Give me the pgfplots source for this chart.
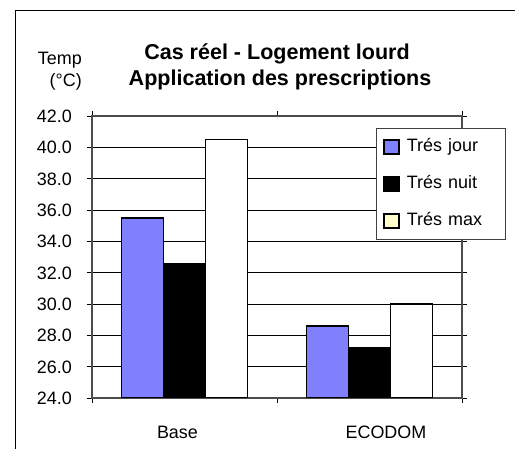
\documentclass[border=0pt]{standalone}
\usepackage{fontspec}
\setmainfont{Liberation Sans}
\usepackage{pgfplots}
\pgfplotsset{compat=1.18}
\definecolor{bjour}{RGB}{128,128,255}
\definecolor{lmax}{RGB}{255,255,204}
\begin{document}
\begin{tikzpicture}[x=1bp,y=1bp]
\useasboundingbox (0,0) rectangle (515,449);
\draw[line width=1bp] (15,-5) -- (15,438) -- (520,438);
\node[anchor=base, font=\bfseries\fontsize{21.6}{26}\selectfont] at (277,389) {Cas réel - Logement lourd};
\node[anchor=base, font=\bfseries\fontsize{21.6}{26}\selectfont] at (280,363) {Application des prescriptions};
\node[anchor=base east, inner sep=0pt, font=\fontsize{18}{21.6}\selectfont] at (82,384) {Temp};
\node[anchor=base east, inner sep=0pt, font=\fontsize{18}{21.6}\selectfont] at (82,362) {(°C)};
\begin{axis}[
  at={(92bp,51bp)}, anchor=south west,
  scale only axis, width=370bp, height=282bp,
  xmin=-0.5, xmax=1.5, ymin=24, ymax=42,
  ybar, bar width=42bp,
  xtick={-0.5,0.5,1.5}, xticklabels={},
  extra x ticks={-0.038,1.089}, extra x tick labels={Base,ECODOM},
  extra x tick style={tick style={draw=none}, grid=none},
  ytick={24,26,...,42},
  ymajorgrids, major grid style={black, line width=0.8bp},
  tick align=outside, major tick length=5bp,
  tick style={black, line width=0.8bp},
  axis line style={black!70, line width=1.2bp},
  /pgf/number format/.cd, fixed, fixed zerofill, precision=1, assume math mode=true, /pgfplots/.cd,
  tick label style={font=\fontsize{18}{21.6}\selectfont, inner sep=0pt},
  yticklabel style={anchor=base east, xshift=-15bp, yshift=-6.4bp},
  xticklabel style={anchor=base, yshift=-35bp},
  legend style={at={(0.7676,0.957)}, anchor=north west, draw=black!75, line width=1bp,
    inner xsep=6bp, inner ysep=10bp, row sep=20bp, column sep=7bp,
    nodes={inner sep=0pt, text height=13bp, text depth=4bp, text width=93bp, align=left, font=\fontsize{18}{21.6}\selectfont}},
  legend cell align=left,
]
\addplot[fill=bjour, draw=black, line width=1.5bp, bar shift=-42bp,
  legend image code/.code={\draw[line width=2.4bp, draw=black, fill=bjour] (0,-7bp) rectangle (15bp,7bp);}]
  coordinates {(0,35.5) (1,28.6)};
\addplot[fill=black, draw=black, line width=1.5bp, bar shift=0bp,
  legend image code/.code={\draw[line width=2.4bp, draw=black, fill=black] (0,-7bp) rectangle (15bp,7bp);}]
  coordinates {(0,32.6) (1,27.2)};
\addplot[fill=white, draw=black, line width=1.5bp, bar shift=42bp,
  legend image code/.code={\draw[line width=2.4bp, draw=black, fill=lmax] (0,-7bp) rectangle (15bp,7bp);}]
  coordinates {(0,40.5) (1,30.0)};
\legend{Trés jour, Trés nuit, Trés max}
\end{axis}
\end{tikzpicture}
\end{document}
